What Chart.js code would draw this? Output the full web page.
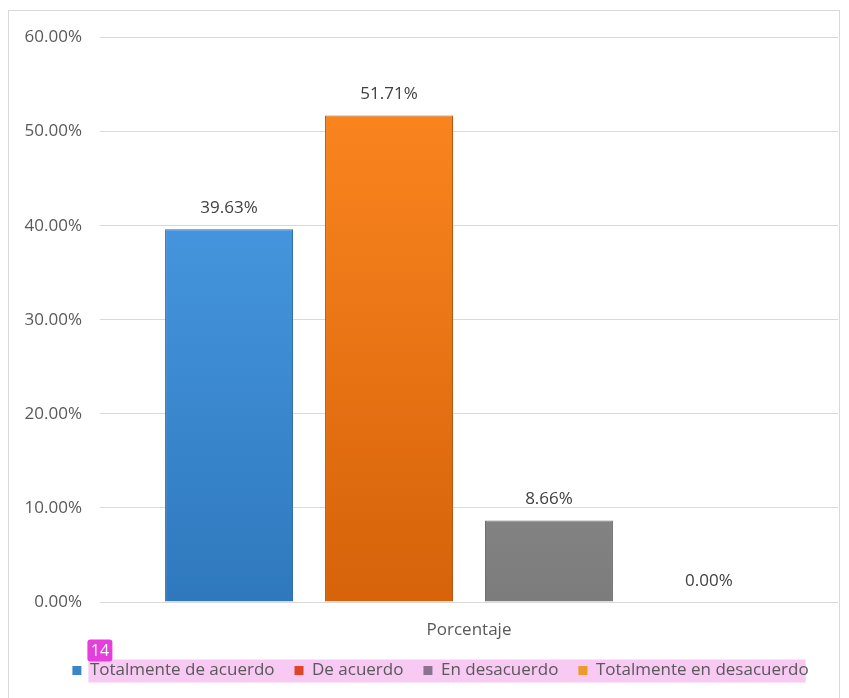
<!DOCTYPE html>
<html>
<head>
<meta charset="utf-8">
<script src="https://cdn.jsdelivr.net/npm/chart.js@4.4.0/dist/chart.umd.min.js"></script>
<style>
  html, body { margin: 0; padding: 0; background: #fff; overflow: hidden; }
  #frame { position: absolute; left: 8px; top: 10px; width: 832px; height: 700px; border: 1px solid #d9d9d9; box-sizing: border-box; }
  #frame canvas { display: block; }
</style>
</head>
<body>
<div id="frame"><canvas id="grafico" width="830" height="698"></canvas></div>
<script>
// datos del grafico
const categorias = ["Porcentaje"];
const respuestas = ["Totalmente de acuerdo", "De acuerdo", "En desacuerdo", "Totalmente en desacuerdo"];
const porcentajes = [39.63, 51.71, 8.66, 0.00];
const ticksY = ["0.00%", "10.00%", "20.00%", "30.00%", "40.00%", "50.00%", "60.00%"];

// colores de las barras (arriba, abajo) y de la leyenda
const coloresBarra = [["#4fa4ee", "#2f78bd"], ["#ff8a22", "#d6620a"], ["#a8a8a8", "#7c7c7c"], ["#f0a030", "#c97c12"]];
const bordesBarra = ["#2a6aa6", "#b8560b", "#6e6e6e", "#b0700f"];
const coloresLeyenda = ["#3a86c8", "#e0452a", "#8a7390", "#ec9a2a"];

function degradado(i) {
  return function (ctx) {
    const area = ctx.chart.chartArea;
    if (!area) return coloresBarra[i][0];
    const g = ctx.chart.ctx.createLinearGradient(0, area.top, 0, area.bottom);
    g.addColorStop(0, coloresBarra[i][0]);
    g.addColorStop(1, coloresBarra[i][1]);
    return g;
  };
}

const datasets = respuestas.map(function (r, i) {
  return {
    label: r,
    data: [porcentajes[i]],
    backgroundColor: degradado(i),
    borderColor: bordesBarra[i],
    borderWidth: 1,
    categoryPercentage: 0.867,
    barPercentage: 0.8
  };
});

// etiquetas encima de cada barra
const etiquetas = {
  id: "etiquetas",
  afterDatasetsDraw(chart) {
    const c = chart.ctx;
    c.save();
    c.font = "17px 'Open Sans'";
    c.fillStyle = "#404040";
    c.textAlign = "center";
    c.textBaseline = "middle";
    chart.data.datasets.forEach(function (ds, i) {
      chart.getDatasetMeta(i).data.forEach(function (bar, j) {
        c.fillText(ds.data[j].toFixed(2) + "%", bar.x, bar.y - 21);
      });
    });
    c.restore();
  }
};

// la leyenda del original no esta centrada en el lienzo
const moverLeyenda = {
  id: "moverLeyenda",
  afterLayout(chart) {
    chart.legend.left += 17;
    chart.legend.right += 17;
  }
};

// resaltado rosa de la leyenda y marca "14"
const resaltado = {
  id: "resaltado",
  beforeDraw(chart) {
    const cajas = chart.legend.legendHitBoxes;
    if (!cajas || !cajas.length) return;
    const a = cajas[0], b = cajas[cajas.length - 1];
    const c = chart.ctx;
    c.save();
    c.fillStyle = "#f7c9f3";
    c.fillRect(a.left + 16, a.top + a.height / 2 - 11, b.left + b.width - a.left - 19, 23);
    c.restore();
  },
  afterDraw(chart) {
    const cajas = chart.legend.legendHitBoxes;
    if (!cajas || !cajas.length) return;
    const a = cajas[0];
    const x = a.left + 15, y = a.top + a.height / 2 - 31;
    const c = chart.ctx;
    c.save();
    c.fillStyle = "#e43fdc";
    c.beginPath();
    c.roundRect(x, y, 25, 22, 3);
    c.fill();
    c.fillStyle = "#ffffff";
    c.font = "16px 'Open Sans'";
    c.textAlign = "center";
    c.textBaseline = "middle";
    c.fillText("14", x + 12.5, y + 11.5);
    c.restore();
  }
};

new Chart(document.getElementById("grafico"), {
  type: "bar",
  data: { labels: categorias, datasets: datasets },
  plugins: [etiquetas, moverLeyenda, resaltado],
  options: {
    responsive: false,
    animation: false,
    layout: { padding: { top: 0, right: 1, left: 0, bottom: 20 } },
    scales: {
      y: {
        min: 0,
        max: 60,
        ticks: {
          stepSize: 10,
          padding: 18,
          color: "#595959",
          font: { size: 17, family: "'Open Sans'", lineHeight: 1 },
          callback: function (v) { return ticksY[v / 10]; }
        },
        grid: { color: "#d9d9d9", drawTicks: false },
        border: { display: false },
        afterFit: function (s) { s.width = 91; }
      },
      x: {
        ticks: { color: "#595959", font: { size: 17, family: "'Open Sans'" }, padding: 18 },
        grid: { display: false, drawTicks: false },
        border: { display: false },
        afterFit: function (s) { s.height = 40; }
      }
    },
    plugins: {
      tooltip: { enabled: false },
      legend: {
        position: "bottom",
        labels: {
          boxWidth: 9,
          boxHeight: 9,
          padding: 20,
          color: "#595959",
          font: { size: 17, family: "'Open Sans'" },
          generateLabels: function (chart) {
            return chart.data.datasets.map(function (ds, i) {
              return {
                text: ds.label,
                fillStyle: coloresLeyenda[i],
                strokeStyle: coloresLeyenda[i],
                lineWidth: 0,
                datasetIndex: i,
                fontColor: "#595959"
              };
            });
          }
        }
      }
    }
  }
});
</script>
</body>
</html>
